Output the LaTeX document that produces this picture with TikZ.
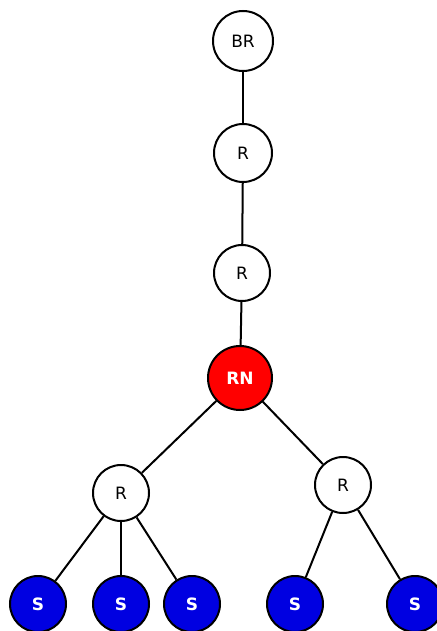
\documentclass[tikz,border=0pt]{standalone}
\usepackage{fontspec}
\setmainfont{DejaVu Sans}
\usetikzlibrary{calc}

\begin{document}
\begin{tikzpicture}[x=1pt,y=-1pt,
  router/.style={draw,circle,line width=2pt,fill=white,inner sep=0pt,
    minimum size=56pt,font=\fontsize{17}{19}\selectfont},
  rootnode/.style={router,fill=red,minimum size=64pt,text=white,
    font=\fontsize{17}{19}\selectfont\bfseries},
  server/.style={router,fill=srvblue,text=white,
    font=\fontsize{17}{19}\selectfont\bfseries},
  link/.style={line width=2pt}]
\definecolor{srvblue}{RGB}{0,0,225}
% Page size of the reference
\useasboundingbox (0,0) rectangle (436,631);
% Chain of routers on top
\node [router,minimum size=60pt] (br) at (243,41) {BR};
\node [router,minimum size=58pt] (r1) at (243,153) {R};
\node [router] (r2) at (242,273) {R};
% Root of the tree
\node [rootnode] (rn) at (240,378) {RN};
% Routers below the root
\node [router] (rl) at (121,493) {R};
\node [router] (rr) at (343,485) {R};
% Servers on the bottom row
\node [server] (s1) at (38,604) {S};
\node [server] (s2) at (121,604) {S};
\node [server] (s3) at (192,604) {S};
\node [server] (s4) at (295,604) {S};
\node [server] (s5) at (415,604) {S};
% Links
\draw [link] (br) -- (r1);
\draw [link] (r1) -- (r2);
\draw [link] (r2) -- (rn);
\draw [link] (rn) -- (rl);
\draw [link] (rn) -- (rr);
\draw [link] (rl) -- (s1);
\draw [link] (rl) -- (s2);
\draw [link] (rl) -- (s3);
\draw [link] (rr) -- (s4);
\draw [link] (rr) -- (s5);
\end{tikzpicture}
\end{document}
